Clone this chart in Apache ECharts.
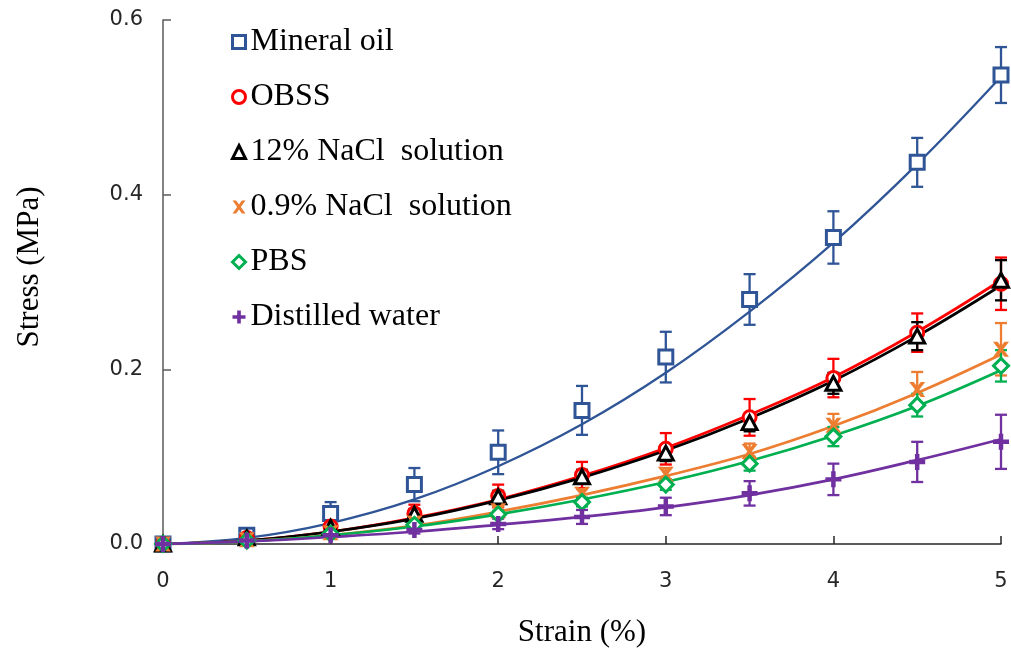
<!DOCTYPE html>
<html>
<head>
<meta charset="utf-8">
<script src="https://cdn.jsdelivr.net/npm/echarts@6/dist/echarts.min.js"></script>
<style>html,body{margin:0;padding:0;background:#fff}#c{width:1011px;height:653px}</style>
</head>
<body>
<div id="c"></div>
<script>
const strain = [0, 0.5, 1, 1.5, 2, 2.5, 3, 3.5, 4, 4.5, 5];
const seriesNames = ['Mineral oil', 'OBSS', '12% NaCl  solution', '0.9% NaCl  solution', 'PBS', 'Distilled water'];
const yTicks = [0, 0.2, 0.4, 0.6];
const xTicks = [0, 1, 2, 3, 4, 5];

const mineralMean  = [0, 0.010, 0.035, 0.068, 0.105, 0.153, 0.214, 0.280, 0.351, 0.437, 0.537];
const mineralErr   = [0, 0.003, 0.013, 0.019, 0.025, 0.028, 0.029, 0.029, 0.030, 0.028, 0.032];
const mineralTrend = [0, 0.007, 0.024, 0.051, 0.089, 0.137, 0.196, 0.266, 0.345, 0.435, 0.535];

const obssMean  = [0, 0.007, 0.020, 0.035, 0.055, 0.079, 0.109, 0.145, 0.190, 0.242, 0.298];
const obssErr   = [0, 0.002, 0.005, 0.010, 0.013, 0.015, 0.018, 0.021, 0.022, 0.022, 0.030];
const obssTrend = [0, 0.004, 0.014, 0.030, 0.051, 0.078, 0.110, 0.148, 0.191, 0.243, 0.302];

const nacl12Mean  = [0, 0.007, 0.019, 0.034, 0.054, 0.077, 0.104, 0.139, 0.184, 0.238, 0.302];
const nacl12Err   = [0, 0.002, 0.004, 0.006, 0.007, 0.008, 0.009, 0.010, 0.012, 0.016, 0.023];
const nacl12Trend = [0, 0.004, 0.014, 0.029, 0.050, 0.076, 0.107, 0.144, 0.187, 0.238, 0.296];

const nacl09Mean  = [0, 0.005, 0.013, 0.024, 0.038, 0.057, 0.080, 0.106, 0.136, 0.177, 0.223];
const nacl09Err   = [0, 0.001, 0.003, 0.004, 0.005, 0.006, 0.007, 0.009, 0.013, 0.020, 0.030];
const nacl09Trend = [0, 0.003, 0.010, 0.021, 0.037, 0.056, 0.078, 0.103, 0.135, 0.173, 0.217];

const pbsMean  = [0, 0.004, 0.012, 0.022, 0.034, 0.048, 0.068, 0.092, 0.123, 0.159, 0.204];
const pbsErr   = [0, 0.001, 0.002, 0.003, 0.004, 0.005, 0.006, 0.008, 0.011, 0.013, 0.018];
const pbsTrend = [0, 0.003, 0.010, 0.020, 0.034, 0.051, 0.071, 0.095, 0.124, 0.158, 0.199];

const waterMean  = [0, 0.004, 0.010, 0.016, 0.023, 0.031, 0.043, 0.058, 0.074, 0.094, 0.117];
const waterErr   = [0, 0.001, 0.003, 0.004, 0.006, 0.008, 0.010, 0.014, 0.018, 0.023, 0.031];
const waterTrend = [0, 0.003, 0.008, 0.014, 0.022, 0.031, 0.042, 0.056, 0.074, 0.096, 0.120];

const colors = ['#2F5597', '#FF0000', '#000000', '#ED7D31', '#00B050', '#7030A0'];
const xPath = 'path://M0,0 L2.8,0 L5,3 L7.2,0 L10,0 L6.4,5 L10,10 L7.2,10 L5,7 L2.8,10 L0,10 L3.6,5 Z';
const plusPath = 'path://M3.6,0 H6.4 V3.6 H10 V6.4 H6.4 V10 H3.6 V6.4 H0 V3.6 H3.6 Z';
const symbols = ['rect', 'circle', 'triangle', xPath, 'diamond', plusPath];
const symbolSizes = [[14, 14], [13, 13], [15, 14], [16, 15], [15, 15], [16, 16]];
const means = [mineralMean, obssMean, nacl12Mean, nacl09Mean, pbsMean, waterMean];
const errs = [mineralErr, obssErr, nacl12Err, nacl09Err, pbsErr, waterErr];
const trends = [mineralTrend, obssTrend, nacl12Trend, nacl09Trend, pbsTrend, waterTrend];

const series = [];
seriesNames.forEach((name, k) => {
  series.push({
    name: name + ' fit', type: 'line', smooth: 0.4, showSymbol: false, silent: true, z: 2,
    data: strain.map((x, i) => [x, trends[k][i]]),
    lineStyle: { color: colors[k], width: k === 0 ? 2.3 : 2.7 }
  });
});
seriesNames.forEach((name, k) => {
  series.push({
    name: name + ' error', type: 'custom', silent: true, z: 3,
    data: strain.map((x, i) => [x, means[k][i] - errs[k][i], means[k][i] + errs[k][i]]),
    encode: { x: 0, y: [1, 2] },
    renderItem: function (params, api) {
      const x = api.value(0), lo = api.value(1), hi = api.value(2);
      if (hi - lo < 1e-9) return null;
      const pt = api.coord([x, hi]), pb = api.coord([x, lo]);
      const w = 6;
      const st = { stroke: colors[k], lineWidth: 2.3 };
      return { type: 'group', children: [
        { type: 'line', shape: { x1: pt[0], y1: pt[1], x2: pb[0], y2: pb[1] }, style: st },
        { type: 'line', shape: { x1: pt[0] - w, y1: pt[1], x2: pt[0] + w, y2: pt[1] }, style: st },
        { type: 'line', shape: { x1: pb[0] - w, y1: pb[1], x2: pb[0] + w, y2: pb[1] }, style: st }
      ]};
    }
  });
});
seriesNames.forEach((name, k) => {
  const filled = k === 3 || k === 5;
  series.push({
    name: name, type: 'scatter', z: 4 + k,
    symbol: symbols[k], symbolSize: symbolSizes[k],
    data: strain.map((x, i) => [x, means[k][i]]),
    itemStyle: filled ? { color: colors[k], borderWidth: 0, opacity: 1 }
                      : { color: '#ffffff', borderColor: colors[k], borderWidth: 3, opacity: 1 }
  });
});

const legendData = seriesNames.map((name, k) => {
  const filled = k === 3 || k === 5;
  return {
    name: name,
    itemStyle: filled ? { color: colors[k], borderWidth: 0 }
                      : { color: '#ffffff', borderColor: colors[k], borderWidth: 3 }
  };
});

const chart = echarts.init(document.getElementById('c'), null, { renderer: 'canvas' });
chart.setOption({
  animation: false,
  backgroundColor: '#fff',
  grid: { left: 163, right: 10, top: 20, bottom: 105, containLabel: false },
  legend: {
    data: legendData, orient: 'vertical', left: 226, top: 21,
    itemWidth: 13, itemHeight: 13, itemGap: 23,
    textStyle: { fontFamily: 'Liberation Serif', fontSize: 32, color: '#000', lineHeight: 32 }
  },
  xAxis: {
    type: 'value', min: xTicks[0], max: xTicks[xTicks.length - 1], interval: 1,
    name: 'Strain (%)', nameLocation: 'middle', nameGap: 73,
    nameTextStyle: { fontFamily: 'Liberation Serif', fontSize: 31, color: '#000' },
    axisLine: { lineStyle: { color: '#262626', width: 1.5 } },
    axisTick: { inside: true, length: 8, lineStyle: { color: '#262626', width: 1.5 } },
    axisLabel: { margin: 27, fontFamily: 'DejaVu Sans', fontSize: 21, color: '#262626' },
    splitLine: { show: false }
  },
  yAxis: {
    type: 'value', min: yTicks[0], max: yTicks[yTicks.length - 1], interval: 0.2,
    name: 'Stress (MPa)', nameLocation: 'middle', nameGap: 118,
    nameTextStyle: { fontFamily: 'Liberation Serif', fontSize: 31, color: '#000', padding: [0, 0, 0, 30] },
    axisLine: { lineStyle: { color: '#595959', width: 1.5 } },
    axisTick: { inside: true, length: 8, lineStyle: { color: '#595959', width: 1.5 } },
    axisLabel: { margin: 20, fontFamily: 'DejaVu Sans', fontSize: 21, color: '#262626',
      formatter: v => v.toFixed(1) },
    splitLine: { show: false }
  },
  series: series
});
</script>
</body>
</html>
